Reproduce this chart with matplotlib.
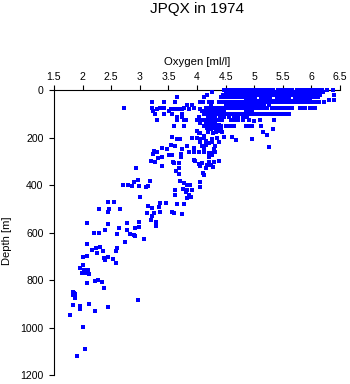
"""
JPQX 1974 oxygen profile: depth vs dissolved oxygen, all casts on one panel.
Values read off the reference picture (standard depths near the surface,
scattered bottle samples deeper down).
"""
import matplotlib
matplotlib.use("Agg")
import matplotlib.pyplot as plt
import numpy as np

plt.rcParams["font.family"] = ["Liberation Sans", "DejaVu Sans"]

COLOR = "#0000ff"

# --- banded upper layer: oxygen [ml/l] at each standard depth [m] ---
oxy_0m = [4.48, 4.52, 4.56, 4.60, 4.64, 4.68, 4.72, 4.76, 4.80, 4.84, 4.88, 4.92, 4.96,
          5.00, 5.04, 5.08, 5.13, 5.17, 5.21, 5.25, 5.29, 5.33, 5.42, 5.46, 5.50, 5.54,
          5.58, 5.62, 5.66, 5.74, 5.78, 5.82, 5.86, 5.90, 5.94, 5.98, 6.02, 6.06, 6.10,
          6.14, 6.18, 6.28, 6.38]
oxy_10m = [4.27, 4.50, 4.54, 4.58, 4.62, 4.66, 4.70, 4.74, 4.78, 4.82, 4.86, 4.90, 4.94,
           4.98, 5.02, 5.06, 5.14, 5.18, 5.22, 5.26, 5.30, 5.34, 5.38, 5.44, 5.48, 5.52,
           5.56, 5.60, 5.64, 5.70, 5.76, 5.80, 5.84, 5.88, 5.92, 5.96, 6.00, 6.04, 6.08,
           6.12, 6.16, 6.20]
oxy_20m = [4.18, 4.46, 4.50, 4.54, 4.58, 4.62, 4.66, 4.70, 4.74, 4.78, 4.82, 4.86, 4.90,
           4.94, 4.98, 5.02, 5.06, 5.10, 5.16, 5.20, 5.24, 5.28, 5.32, 5.36, 5.44, 5.48,
           5.52, 5.56, 5.60, 5.64, 5.68, 5.75, 5.79, 5.83, 5.87, 5.91, 5.95, 5.99, 6.03,
           6.07, 6.11, 6.15, 6.40]
oxy_30m = [3.65, 4.12, 4.42, 4.46, 4.50, 4.54, 4.58, 4.62, 4.66, 4.70, 4.74, 4.78, 4.82,
           4.86, 4.90, 4.94, 4.98, 5.02, 5.12, 5.16, 5.20, 5.24, 5.28, 5.40, 5.44, 5.48,
           5.52, 5.56, 5.60, 5.72, 5.76, 5.80, 5.84, 5.88, 5.92, 5.96, 6.00, 6.04, 6.08,
           6.12]
oxy_42m = [6.30, 6.40]
oxy_45m = [4.86, 4.90, 4.94, 4.98, 5.02, 5.06, 5.10, 5.14, 5.18, 5.22, 5.26, 5.30, 5.34,
           5.38, 5.42, 5.46, 5.50, 5.54, 5.58, 5.62, 5.66, 5.70, 5.74, 5.78, 5.82, 5.86,
           5.90, 5.94, 5.98]
oxy_50m = [3.21, 3.43, 3.61, 4.06, 4.11, 4.21, 4.27, 4.38, 4.42, 4.46, 4.50, 4.54, 4.58,
           4.62, 4.66, 4.70, 4.74, 4.78, 4.82, 4.86, 4.90, 4.94, 4.98, 5.02, 5.06, 5.10,
           5.14, 5.18, 5.22, 5.26, 5.30, 5.34, 5.38, 5.42, 5.46, 5.50, 5.54, 5.58, 5.62,
           5.66, 5.70, 5.74, 5.78, 5.82, 5.86, 5.90, 5.94, 5.98, 6.02, 6.06, 6.10, 6.14,
           6.22]
oxy_62m = [3.82, 3.92, 4.24, 4.50, 4.54, 4.58, 4.62, 4.68, 4.72, 4.76, 4.80, 4.86, 4.92,
           4.96, 5.00, 5.05, 5.12, 5.18, 5.26]
oxy_75m = [2.72, 3.21, 3.35, 3.42, 3.77, 3.94, 4.15, 4.19, 4.23, 4.27, 4.31, 4.35, 4.39,
           4.43, 4.47, 4.51, 4.55, 4.59, 4.63, 4.67, 4.71, 4.75, 4.79, 4.83, 4.87, 4.91,
           4.95, 4.99, 5.03, 5.07, 5.11, 5.15, 5.19, 5.23, 5.31, 5.35, 5.39, 5.43, 5.47,
           5.51, 5.55, 5.61, 5.66, 5.80, 5.84, 5.88, 5.97, 6.02, 6.06]
oxy_82m = [3.30, 3.55, 3.62, 3.68, 3.74, 3.86, 4.06, 4.21]
oxy_88m = [3.23, 3.51, 4.09, 4.15, 4.19, 4.23, 4.27, 4.31, 4.35, 4.39, 4.43, 4.47, 4.85,
           4.89, 4.93, 4.97]
oxy_100m = [3.27, 3.42, 3.56, 3.74, 4.12, 4.18, 4.22, 4.26, 4.30, 4.34, 4.38, 4.42, 4.46,
            4.50, 4.54, 4.58, 4.62, 4.66, 4.70, 4.74, 4.78, 4.82, 4.86, 4.90, 4.94, 4.98,
            5.02, 5.06, 5.10, 5.14, 5.18, 5.22, 5.26, 5.29, 5.33, 5.37, 5.41, 5.45, 5.49,
            5.53, 5.61]
oxy_112m = [3.65, 3.74, 4.03, 4.20, 4.26, 4.32, 4.40, 4.48, 4.56, 4.64, 4.72, 4.80, 4.88]
oxy_125m = [3.30, 3.65, 3.77, 3.81, 4.00, 4.06, 4.12, 4.16, 4.20, 4.24, 4.28, 4.32, 4.36,
            4.40, 4.44, 4.60, 4.66, 4.72, 4.80, 4.91, 5.11, 5.35]
oxy_152m = [3.59, 3.77, 4.12, 4.24, 4.30, 4.36, 4.42, 4.50, 4.58, 4.65, 4.85, 4.90, 4.96,
            5.12]

# --- scattered samples below the banded layer: (oxygen, depth) pairs ---
mid_oxy = [5.00, 4.06, 4.15, 4.20, 4.26, 4.32, 4.38, 4.18, 4.24, 4.30, 4.42, 5.33, 4.00,
           4.36, 4.06, 4.20, 4.28, 4.34, 4.44, 4.41, 5.15, 4.03, 5.22, 4.12, 3.56, 4.62,
           4.47, 3.92, 4.00, 4.35, 3.65, 3.71, 4.06, 4.27, 4.97, 4.12, 4.69, 4.38, 4.15,
           4.21, 4.06, 4.27, 4.15, 3.54, 3.62, 3.83, 4.09, 4.32, 4.12, 5.26, 3.39, 3.94,
           3.48, 3.74, 4.12, 4.30]
mid_depth = [130, 138, 140, 142, 145, 140, 148, 160, 165, 160, 160, 163, 173,
             170, 180, 175, 180, 178, 175, 171, 177, 182, 191, 194, 197, 197,
             196, 201, 201, 201, 208, 208, 208, 208, 205, 204, 211, 219, 215,
             222, 218, 218, 232, 233, 236, 236, 236, 236, 239, 239, 243, 243,
             250, 250, 250, 250]

lower_oxy = [3.24, 3.30, 3.86, 3.94, 4.03, 4.12, 4.21, 4.32, 4.24, 4.27, 3.23, 3.51,
             3.56, 3.72, 4.27, 3.39, 3.72, 3.31, 4.21, 3.94, 3.97, 4.38, 3.27, 3.58,
             4.21, 4.30, 3.20, 4.09, 3.59, 3.68, 4.03, 4.18, 4.24, 3.38, 4.06, 4.28,
             3.68, 4.15, 3.64, 4.11, 3.68, 4.12, 3.18, 3.70, 4.05, 3.77, 3.83, 3.87,
             4.06, 3.76, 3.62, 3.83, 3.92, 3.80, 3.86, 3.61, 3.90, 3.83, 3.36, 3.45,
             3.65, 3.78, 3.33, 3.21, 3.36, 3.56, 3.24, 3.59, 3.74, 3.21, 3.20,
             2.93, 2.96, 2.90, 2.70, 2.79, 2.87, 2.99, 3.11, 3.14, 3.01, 2.45, 2.55,
             2.29, 2.46, 2.45, 2.65, 3.14, 3.13]
lower_depth = [257, 260, 260, 260, 260, 260, 264, 260, 267, 274, 269, 274,
               274, 269, 274, 283, 283, 288, 281, 295, 298, 298, 302, 302,
               302, 302, 300, 309, 309, 309, 312, 316, 316, 319, 320, 326,
               330, 330, 340, 351, 354, 358, 382, 382, 386, 393, 400, 400,
               410, 418, 421, 421, 421, 428, 442, 442, 449, 456, 474, 474,
               480, 480, 491, 495, 512, 512, 516, 519, 522, 530, 546,
               330, 379, 386, 400, 400, 404, 404, 407, 404, 452, 470, 473,
               502, 502, 512, 502, 488, 519]

deep_oxy = [2.99, 3.28, 2.08, 2.45, 2.77, 2.63, 2.92, 2.99, 3.28, 2.20, 2.29, 2.39,
            2.60, 2.82, 2.77, 2.89, 2.91, 3.07, 2.08, 2.17, 2.23, 2.25, 2.30, 2.36,
            2.44, 2.37, 2.40, 2.53, 2.58, 2.60, 2.58, 2.74, 2.00, 2.07, 2.00, 1.96,
            2.03, 2.05, 1.99, 2.10, 2.12, 2.08, 2.22, 2.27, 2.34, 2.37, 1.84, 1.85,
            1.87, 1.83, 1.86, 1.84, 1.96, 1.96, 2.12, 2.22, 2.45, 1.78, 2.96, 2.00,
            2.05, 1.91]
deep_depth = [555, 555, 561, 564, 561, 582, 582, 577, 573, 604, 604, 589,
              608, 608, 589, 611, 613, 629, 648, 674, 667, 685, 660, 678,
              702, 707, 716, 713, 678, 667, 730, 641, 702, 699, 737, 751,
              758, 772, 769, 758, 776, 814, 804, 800, 810, 832, 849, 856,
              859, 863, 875, 907, 910, 924, 903, 931, 912, 949, 885, 999,
              1092, 1120]

rows = [(0, oxy_0m), (10, oxy_10m), (20, oxy_20m), (30, oxy_30m), (42, oxy_42m),
        (45, oxy_45m), (50, oxy_50m), (62, oxy_62m), (75, oxy_75m), (82, oxy_82m),
        (88, oxy_88m), (100, oxy_100m), (112, oxy_112m), (125, oxy_125m),
        (152, oxy_152m)]

oxy = np.concatenate([np.array(v) for _, v in rows] + [mid_oxy, lower_oxy, deep_oxy])
depth = np.concatenate([np.full(len(v), d) for d, v in rows] + [mid_depth, lower_depth, deep_depth])

fig = plt.figure(figsize=(3.5, 3.84), dpi=100)
ax = fig.add_axes([0.1543, 0.0234, 0.8171, 0.7422])
ax.scatter(oxy, depth, s=5.5, marker="s", color=COLOR, linewidths=0, clip_on=False, zorder=3)

ax.set_xlim(1.5, 6.5)
ax.set_ylim(1200, 0)
xt = [1.5, 2, 2.5, 3, 3.5, 4, 4.5, 5, 5.5, 6, 6.5]
ax.set_xticks(xt)
ax.set_xticklabels([f"{t:g}" for t in xt])
ax.set_yticks([0, 200, 400, 600, 800, 1000, 1200])
ax.xaxis.tick_top()
ax.xaxis.set_label_position("top")
for side in ("right", "bottom"):
    ax.spines[side].set_visible(False)
for side in ("top", "left"):
    ax.spines[side].set_linewidth(0.8)
ax.tick_params(direction="out", length=3.6, width=0.8, labelsize=7.6)
ax.tick_params(axis="x", pad=2.5)
ax.tick_params(axis="y", pad=4)

ax.set_xlabel("Oxygen [ml/l]", fontsize=8.2, va="bottom")
ax.xaxis.set_label_coords(0.5, 1.08)
ax.set_ylabel("Depth [m]", fontsize=8)
ax.yaxis.set_label_coords(-0.148, 0.47)

fig.text(0.563, 0.966, "JPQX in 1974", ha="center", va="baseline", fontsize=11)

fig.savefig("out.png", dpi=100)
